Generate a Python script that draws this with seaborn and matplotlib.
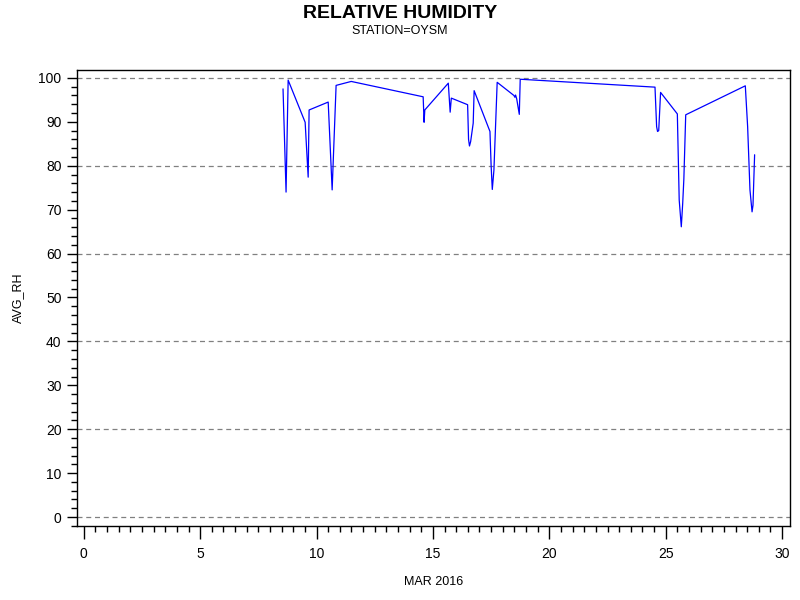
import matplotlib
matplotlib.use('Agg')
import matplotlib.pyplot as plt
import pandas as pd
import seaborn as sns
from matplotlib.ticker import MultipleLocator

# day of month (March 2016) and average relative humidity
day = [8.56, 8.69, 8.78, 9.51, 9.64, 9.68, 10.50, 10.67, 10.84, 11.49,
       14.58, 14.62, 14.65, 15.66, 15.74, 15.79, 16.49, 16.53, 16.57, 16.62,
       16.73, 16.77, 17.45, 17.50, 17.55, 17.62, 17.76, 18.48, 18.52, 18.55,
       18.60, 18.71, 18.75, 24.54, 24.61, 24.65, 24.70, 24.78, 25.50, 25.58,
       25.67, 25.73, 25.78, 25.86, 28.42, 28.52, 28.62, 28.71, 28.75, 28.82]
avg_rh = [97.5, 74.0, 99.5, 89.9, 77.4, 92.7, 94.5, 74.5, 98.3, 99.2,
          95.7, 89.9, 92.7, 98.8, 92.2, 95.4, 93.9, 86.0, 84.5, 85.5,
          89.7, 97.1, 87.8, 80.0, 74.6, 79.0, 99.0, 96.0, 95.6, 96.1,
          95.2, 91.7, 99.7, 97.9, 88.9, 87.8, 88.0, 96.7, 91.8, 72.2,
          66.1, 71.4, 77.0, 91.6, 98.2, 88.9, 74.5, 69.5, 71.0, 82.5]
grid_levels = [0, 20, 40, 60, 80, 100]

df = pd.DataFrame({'day': day, 'AVG_RH': avg_rh})

sns.set_style('white')
plt.rcParams['font.family'] = ['Liberation Sans', 'DejaVu Sans']
plt.rcParams['text.color'] = 'black'
plt.rcParams['axes.labelcolor'] = 'black'

fig = plt.figure(figsize=(8, 6), dpi=100)
ax = fig.add_axes([0.096, 0.1233, 0.8915, 0.76])

sns.lineplot(data=df, x='day', y='AVG_RH', sort=False, color='#0000ff',
             linewidth=0.9, ax=ax)

ax.set_xlim(-0.3, 30.34)
ax.set_ylim(-2.05, 101.8)
ax.xaxis.set_major_locator(MultipleLocator(5))
ax.xaxis.set_minor_locator(MultipleLocator(0.5))
ax.yaxis.set_major_locator(MultipleLocator(10))
ax.yaxis.set_minor_locator(MultipleLocator(2))

for yv in grid_levels:
    ax.axhline(yv, color='#808080', linestyle=(0, (4, 3)), linewidth=0.9, zorder=0)

for s in ax.spines.values():
    s.set_color('black')
    s.set_linewidth(1.0)

ax.tick_params(axis='both', which='major', direction='out', length=7, width=1,
               color='black', labelsize=10, labelcolor='black', pad=4,
               bottom=True, left=True)
ax.tick_params(axis='both', which='minor', direction='out', length=4, width=1,
               color='black', bottom=True, left=True)
ax.tick_params(axis='x', which='major', length=9, pad=6)

ax.set_xlabel('MAR 2016', fontsize=9, labelpad=11)
ax.set_ylabel('AVG_RH', fontsize=9, labelpad=10)

fig.text(0.5, 0.978, 'RELATIVE HUMIDITY', ha='center', va='center',
         fontsize=14, fontweight='bold')
fig.text(0.5, 0.948, 'STATION=OYSM', ha='center', va='center', fontsize=9)

fig.savefig('out.png', dpi=100)
